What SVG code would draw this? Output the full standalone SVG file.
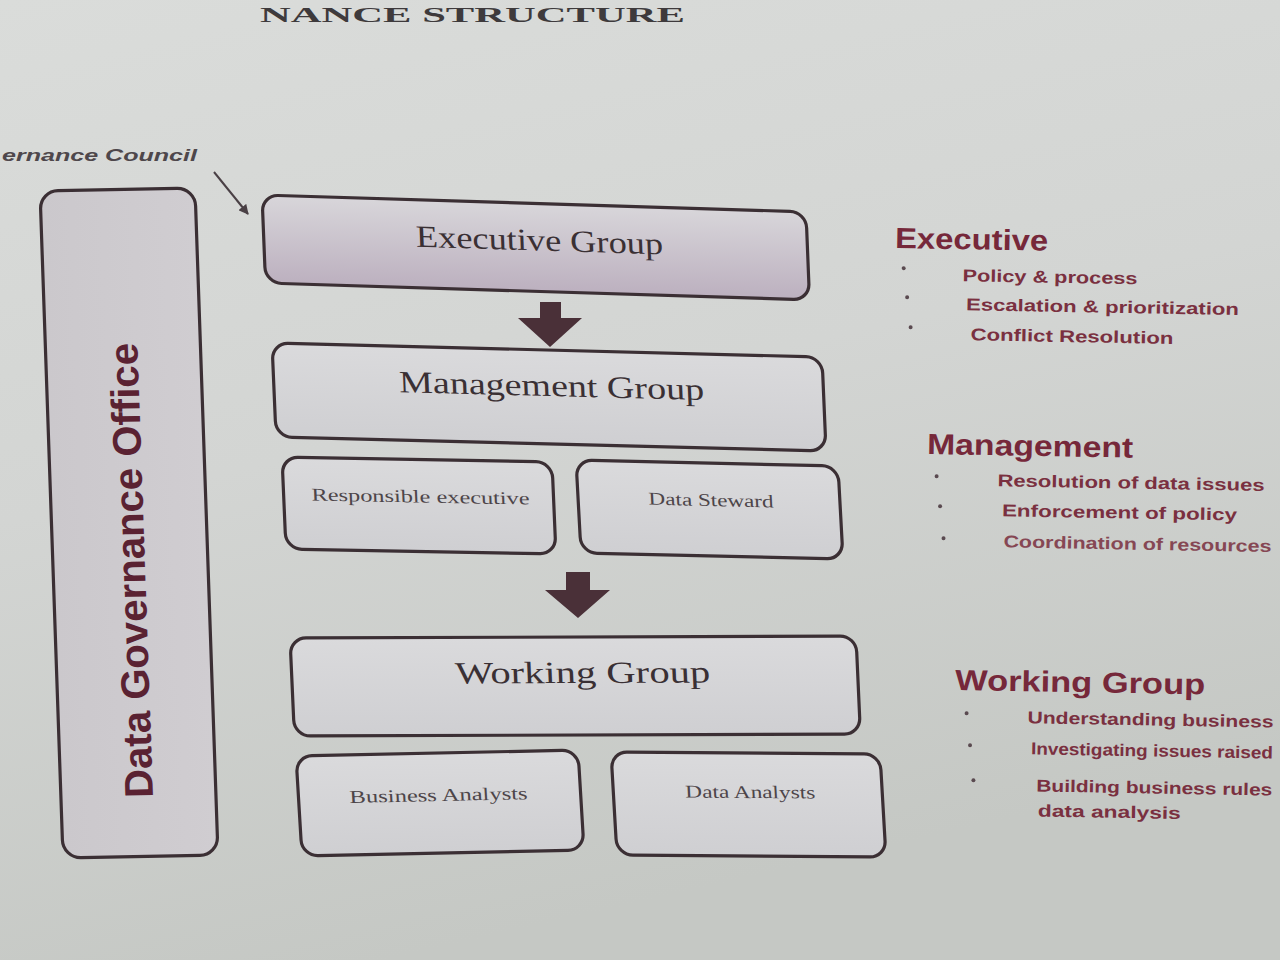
<svg xmlns="http://www.w3.org/2000/svg" width="1280" height="960" viewBox="0 0 1280 960">
  <defs>
    <linearGradient id="bg" x1="0" y1="0" x2="0.3" y2="1">
      <stop offset="0" stop-color="#dadcda"/>
      <stop offset="0.5" stop-color="#d3d5d3"/>
      <stop offset="1" stop-color="#c5c8c4"/>
    </linearGradient>
    <linearGradient id="boxfill" x1="0" y1="0" x2="0" y2="1">
      <stop offset="0" stop-color="#dadadc"/>
      <stop offset="1" stop-color="#cfcfd2"/>
    </linearGradient>
    <linearGradient id="execfill" x1="0" y1="0" x2="0" y2="1">
      <stop offset="0" stop-color="#d8d6da"/>
      <stop offset="1" stop-color="#bcb0bf"/>
    </linearGradient>
    <linearGradient id="dgofill" x1="0" y1="0" x2="1" y2="0">
      <stop offset="0" stop-color="#cbc8cc"/>
      <stop offset="1" stop-color="#d0cdd1"/>
    </linearGradient>
    <marker id="ah" viewBox="0 0 10 10" refX="9" refY="5" markerWidth="5" markerHeight="5" orient="auto">
      <path d="M0,0 L10,5 L0,10 Z" fill="#4a4045"/>
    </marker>
    <style>
      .box{stroke:#3b2f34;stroke-width:3.2;fill:url(#boxfill)}
      .big{font-family:"Liberation Serif","DejaVu Serif",serif;font-size:31px;fill:#3a3034;text-anchor:middle}
      .small{font-family:"Liberation Serif","DejaVu Serif",serif;font-size:18px;fill:#4d4549;text-anchor:middle}
      .head{font-family:"Liberation Sans",Arial,sans-serif;font-weight:bold;font-size:29px;fill:#76283a}
      .item{font-family:"Liberation Sans",Arial,sans-serif;font-weight:bold;font-size:17px;fill:#7a3040}
      .bul{fill:#5a4a50}
      .blk{fill:#4a3038}
    </style>
  </defs>

  <rect width="1280" height="960" fill="url(#bg)"/>

  <!-- title (top of slide) -->
  <text x="685" y="22" text-anchor="end" font-family="Liberation Serif, serif" font-weight="bold" font-size="22" fill="#3e3a3c" textLength="425" lengthAdjust="spacingAndGlyphs">NANCE STRUCTURE</text>

  <!-- council label -->
  <text x="197" y="161" text-anchor="end" font-family="Liberation Sans, sans-serif" font-weight="bold" font-style="italic" font-size="17" fill="#4e474b" textLength="195" lengthAdjust="spacingAndGlyphs">ernance Council</text>

  <g id="connectors">
    <line x1="214" y1="172" x2="248" y2="214" stroke="#4a4045" stroke-width="2" marker-end="url(#ah)"/>
    <path class="blk" d="M540,302 L561,302 L561,318 L582,318 L550,347 L518,318 L540,318 Z"/>
    <path class="blk" d="M566,572 L590,572 L590,590 L610,590 L578,618 L545,590 L566,590 Z"/>
  </g>

  <g id="dgo" transform="matrix(1,-0.019,0.0345,1,40,191)">
    <rect class="box" style="fill:url(#dgofill)" x="0" y="0" width="155" height="667" rx="18"/>
    <text transform="translate(92,381) rotate(-90)" text-anchor="middle" font-family="Liberation Sans, Arial, sans-serif" font-weight="bold" font-size="40" fill="#5a2232" textLength="455" lengthAdjust="spacingAndGlyphs">Data Governance Office</text>
  </g>

  <g id="exec" transform="matrix(1,0.031,0.04,1,262,195)">
    <rect class="box" style="fill:url(#execfill)" x="0" y="0" width="544" height="88" rx="16"/>
    <text class="big" x="276" y="47" textLength="247" lengthAdjust="spacingAndGlyphs">Executive Group</text>
  </g>

  <g id="mgmt" transform="matrix(1,0.0255,0.043,1,272,343)">
    <rect class="box" x="0" y="0" width="550" height="94" rx="16"/>
    <text class="big" x="278" y="46" textLength="305" lengthAdjust="spacingAndGlyphs">Management Group</text>
  </g>

  <g id="resp" transform="matrix(1,0.0185,0.043,1,282,457)">
    <rect class="box" x="0" y="0" width="270" height="92" rx="16"/>
    <text class="small" x="137" y="43" textLength="218" lengthAdjust="spacingAndGlyphs">Responsible executive</text>
  </g>

  <g id="steward" transform="matrix(1,0.023,0.054,1,576,460)">
    <rect class="box" x="0" y="0" width="262" height="93" rx="16"/>
    <text class="small" x="133" y="43" textLength="125" lengthAdjust="spacingAndGlyphs">Data Steward</text>
  </g>

  <g id="working" transform="matrix(1,-0.0035,0.045,1,290,638)">
    <rect class="box" x="0" y="0" width="566" height="98" rx="16"/>
    <text class="big" x="291" y="46" textLength="255" lengthAdjust="spacingAndGlyphs">Working Group</text>
  </g>

  <g id="business" transform="matrix(1,-0.021,0.06,1,296,756)">
    <rect class="box" x="0" y="0" width="282" height="100" rx="16"/>
    <text class="small" x="140" y="48" textLength="178" lengthAdjust="spacingAndGlyphs">Business Analysts</text>
  </g>

  <g id="dataanalysts" transform="matrix(1,0.0074,0.058,1,611,752)">
    <rect class="box" x="0" y="0" width="269" height="103" rx="16"/>
    <text class="small" x="137" y="45" textLength="130" lengthAdjust="spacingAndGlyphs">Data Analysts</text>
  </g>

  <!-- right-hand notes -->
  <g id="notes-exec" transform="rotate(1 895 248)">
    <text class="head" x="895" y="248" textLength="153" lengthAdjust="spacingAndGlyphs">Executive</text>
    <circle class="bul" cx="904" cy="268" r="2"/>
    <circle class="bul" cx="908" cy="297" r="2"/>
    <circle class="bul" cx="912" cy="327" r="2"/>
    <text class="item" x="963" y="280" textLength="175" lengthAdjust="spacingAndGlyphs">Policy &amp; process</text>
    <text class="item" x="967" y="309" textLength="273" lengthAdjust="spacingAndGlyphs">Escalation &amp; prioritization</text>
    <text class="item" x="972" y="339" textLength="203" lengthAdjust="spacingAndGlyphs">Conflict Resolution</text>
  </g>

  <g id="notes-mgmt" transform="rotate(1 927 454)">
    <text class="head" x="927" y="454" textLength="206" lengthAdjust="spacingAndGlyphs">Management</text>
    <circle class="bul" cx="937" cy="476" r="2"/>
    <circle class="bul" cx="941" cy="506" r="2"/>
    <circle class="bul" cx="945" cy="538" r="2"/>
    <text class="item" x="998" y="485" textLength="267" lengthAdjust="spacingAndGlyphs">Resolution of data issues</text>
    <text class="item" x="1003" y="515" textLength="235" lengthAdjust="spacingAndGlyphs">Enforcement of policy</text>
    <text class="item" x="1005" y="546" opacity="0.85" textLength="268" lengthAdjust="spacingAndGlyphs">Coordination of resources</text>
  </g>

  <g id="notes-working" transform="rotate(1 955 690)">
    <text class="head" x="955" y="690" textLength="250" lengthAdjust="spacingAndGlyphs">Working Group</text>
    <circle class="bul" cx="967" cy="713" r="2"/>
    <circle class="bul" cx="971" cy="745" r="2"/>
    <circle class="bul" cx="975" cy="780" r="2"/>
    <text class="item" x="1028" y="722" textLength="246" lengthAdjust="spacingAndGlyphs">Understanding business</text>
    <text class="item" x="1032" y="753" textLength="242" lengthAdjust="spacingAndGlyphs">Investigating issues raised</text>
    <text class="item" x="1038" y="790" textLength="236" lengthAdjust="spacingAndGlyphs">Building business rules</text>
    <text class="item" x="1040" y="815" textLength="143" lengthAdjust="spacingAndGlyphs">data analysis</text>
  </g>
</svg>
